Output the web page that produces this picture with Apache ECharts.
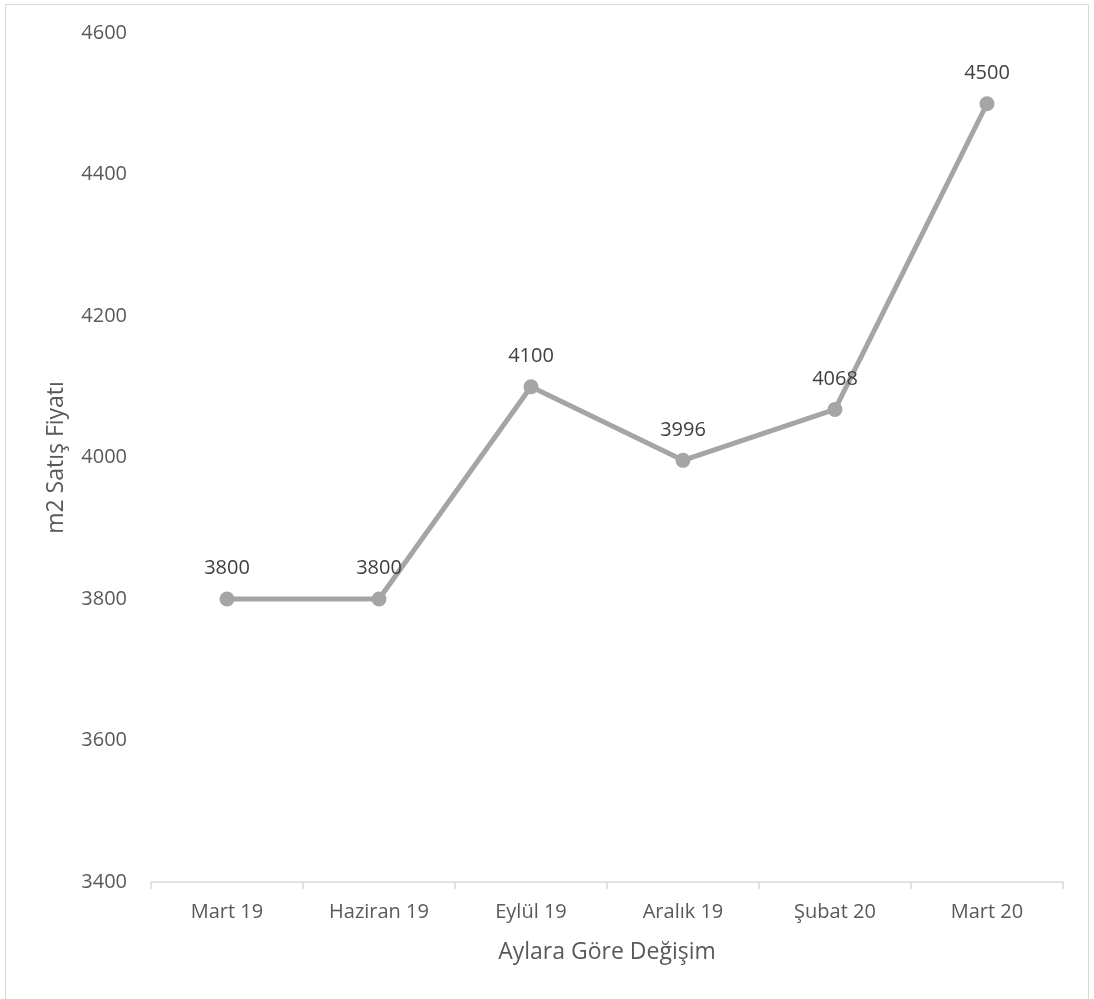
<!DOCTYPE html>
<html>
<head>
<meta charset="utf-8">
<script src="https://cdn.jsdelivr.net/npm/echarts@6/dist/echarts.min.js"></script>
<style>
    html, body { margin: 0; padding: 0; background: #fff; }
    #chart { width: 1094px; height: 999px; }
</style>
</head>
<body>
<div id="chart"></div>
<script>
    // aylar ve m2 fiyatlari
    const months = ['Mart 19', 'Haziran 19', 'Eylül 19', 'Aralık 19', 'Şubat 20', 'Mart 20'];
    const prices = [3800, 3800, 4100, 3996, 4068, 4500];

    const font = '"Open Sans", "Noto Sans", sans-serif';
    const chart = echarts.init(document.getElementById('chart'));

    chart.setOption({
        animation: false,
        backgroundColor: '#fff',
        graphic: [{
            type: 'rect',
            shape: { x: 5.5, y: 4.5, width: 1083, height: 1010 },
            style: { fill: 'none', stroke: '#d9d9d9', lineWidth: 1 }
        }],
        grid: { left: 151, right: 31, top: 33, bottom: 117 },
        xAxis: {
            type: 'category',
            data: months,
            boundaryGap: true,
            name: 'Aylara Göre Değişim',
            nameLocation: 'middle',
            nameGap: 59,
            nameTextStyle: { color: '#595959', fontSize: 23, fontFamily: font },
            axisLine: { lineStyle: { color: '#d9d9d9', width: 1.5 } },
            axisTick: { show: true, length: 7, lineStyle: { color: '#d9d9d9', width: 1.5 } },
            axisLabel: { color: '#595959', fontSize: 20, fontFamily: font, margin: 20 },
            splitLine: { show: false }
        },
        yAxis: {
            type: 'value',
            min: 3400,
            max: 4600,
            interval: 200,
            name: 'm2 Satış Fiyatı',
            nameLocation: 'middle',
            nameGap: 83,
            nameTextStyle: { color: '#595959', fontSize: 23, fontFamily: font },
            axisLine: { show: false },
            axisTick: { show: false },
            axisLabel: {
                color: '#595959', fontSize: 20, fontFamily: font, margin: 24,
                formatter: v => String(v)
            },
            splitLine: { show: false }
        },
        series: [{
            type: 'line',
            data: prices,
            symbol: 'circle',
            symbolSize: 15,
            lineStyle: { color: '#a5a5a5', width: 5 },
            itemStyle: { color: '#a5a5a5' },
            label: {
                show: true,
                position: 'top',
                distance: 13,
                color: '#404040',
                fontSize: 20,
                fontFamily: font
            }
        }]
    });
</script>
</body>
</html>
